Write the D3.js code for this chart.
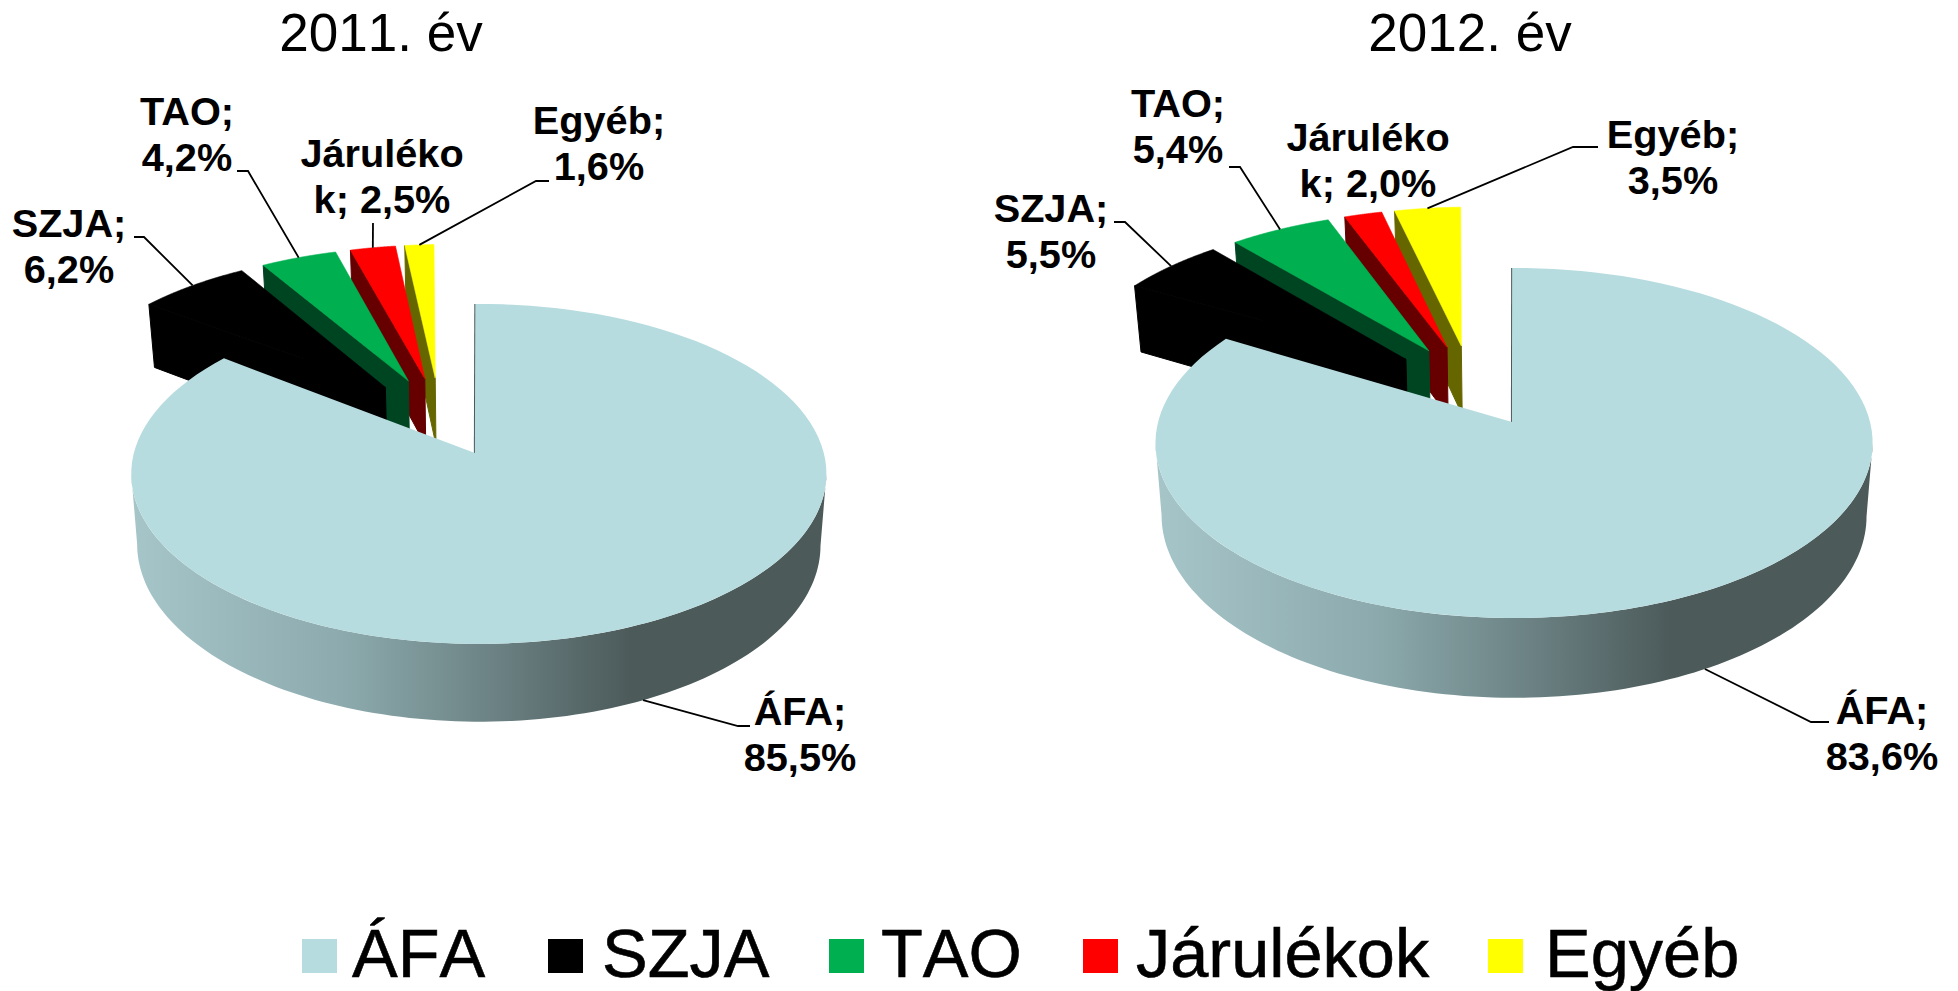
<!DOCTYPE html>
<html>
<head>
<meta charset="utf-8">
<script src="https://cdn.jsdelivr.net/npm/d3@7"></script>
<style>
  html, body { margin: 0; padding: 0; background: #fff; }
  svg { display: block; font-family: "Liberation Sans", Arial, sans-serif; }
</style>
</head>
<body>
<svg width="1958" height="991"></svg>
<script>
const categories = ["ÁFA", "SZJA", "TAO", "Járulékok", "Egyéb"];
const values2011 = [85.5, 6.2, 4.2, 2.5, 1.6];
const values2012 = [83.6, 5.5, 5.4, 2.0, 3.5];
const colors = ["#b7dcdf", "#000000", "#00b050", "#ff0000", "#ffff00"];
const darkColors = ["#4c5a5a", "#000000", "#004522", "#660000", "#666600"];

const labels2011 = [
    { lines: ["ÁFA;", "85,5%"], x: 800, y: 725, elbow: [[738, 726], [750, 726]] },
    { lines: ["SZJA;", "6,2%"], x: 69, y: 237, elbow: [[144, 237], [134, 237]] },
    { lines: ["TAO;", "4,2%"], x: 187, y: 125, elbow: [[248, 171], [237, 171]] },
    { lines: ["Járuléko", "k; 2,5%"], x: 382, y: 167, elbow: [[373, 223]] },
    { lines: ["Egyéb;", "1,6%"], x: 599, y: 134, elbow: [[536, 181], [549, 181]] }
];
const labels2012 = [
    { lines: ["ÁFA;", "83,6%"], x: 1882, y: 724, elbow: [[1811, 722], [1829, 722]] },
    { lines: ["SZJA;", "5,5%"], x: 1051, y: 222, elbow: [[1125, 222], [1114, 222]] },
    { lines: ["TAO;", "5,4%"], x: 1178, y: 117, elbow: [[1240, 167], [1229, 167]] },
    { lines: ["Járuléko", "k; 2,0%"], x: 1368, y: 151, elbow: null },
    { lines: ["Egyéb;", "3,5%"], x: 1673, y: 148, elbow: [[1573, 147], [1598, 147]] }
];

// legend slots: swatch left edge and text left edge
const legendSwatchX = [302, 548, 829, 1083, 1488];
const legendTextX = [352, 602, 881, 1136, 1545];

const svg = d3.select("svg");
const defs = svg.append("defs");

const lineGen = d3.line().x(d => d[0]).y(d => d[1]);

function drawPie(opts) {
    const { values, labels, title, titleX, id } = opts;
    const { ax, ay, R, B, k, m, depth, e, c0 } = opts;
    const g = svg.append("g").attr("class", id);

    // tilted disc with a bit of perspective: y is negative towards the back
    function project(X, Y, z) {
        const w = 1 / (1 - k * Y - m * X);
        return [
            ax + R * X * w * (1 - 0.017 * z),
            ay + B * Y * w + z * depth * Math.pow(w, 0.8)
        ];
    }

    const slices = d3.pie().sort(null)(values);
    slices.forEach((s, i) => {
        s.mid = (s.startAngle + s.endAngle) / 2;
        s.i = i;
        s.cx = c0[0] + e * Math.sin(s.mid);
        s.cy = c0[1] - e * Math.cos(s.mid);
        s.rot = i === 0 ? 0 : 0.02; // the small slices lean a touch to the left
    });

    const rim = (s, a, z) => project(s.cx + Math.sin(a - s.rot), s.cy - Math.cos(a - s.rot), z);
    const arcPts = (s, a0, a1, z) => d3.range(0, 121).map(j => rim(s, a0 + (a1 - a0) * j / 120, z));

    const gradId = `side-${id}`;
    const grad = defs.append("linearGradient")
        .attr("id", gradId)
        .attr("gradientUnits", "userSpaceOnUse")
        .attr("x1", ax - R).attr("x2", ax + R).attr("y1", 0).attr("y2", 0);
    grad.append("stop").attr("offset", 0).attr("stop-color", "#a6c5c8");
    grad.append("stop").attr("offset", 0.3).attr("stop-color", "#8dabae");
    grad.append("stop").attr("offset", 0.5).attr("stop-color", "#6f8688");
    grad.append("stop").attr("offset", 0.72).attr("stop-color", "#4c5a5a");
    grad.append("stop").attr("offset", 1).attr("stop-color", "#4c5a5a");

    // small slices back to front, the big one goes last
    slices.slice(1).reverse().forEach(s => {
        const apexTop = project(s.cx, s.cy, 0);
        const apexBottom = project(s.cx, s.cy, 1);
        const outerTop = rim(s, s.startAngle, 0);
        const outerBottom = rim(s, s.startAngle, 1);
        g.append("path")
            .attr("d", lineGen([apexTop, outerTop, outerBottom, apexBottom]) + "Z")
            .attr("fill", darkColors[s.i])
            .attr("stroke", darkColors[s.i])
            .attr("stroke-width", 1);
        g.append("path")
            .attr("d", lineGen([apexTop].concat(arcPts(s, s.startAngle, s.endAngle, 0))) + "Z")
            .attr("fill", colors[s.i])
            .attr("stroke", colors[s.i])
            .attr("stroke-width", 0.6);
    });

    // side wall of the big slice between the two outer edges of the disc
    const big = slices[0];
    const sideFrom = Math.PI / 2 + Math.asin(k);
    const sideTo = 3 * Math.PI / 2 - Math.asin(k);
    g.append("path")
        .attr("d", lineGen(arcPts(big, sideFrom, sideTo, 0)
            .concat(arcPts(big, sideFrom, sideTo, 1).reverse())) + "Z")
        .attr("fill", `url(#${gradId})`);
    g.append("path")
        .attr("d", lineGen([project(big.cx, big.cy, 0), rim(big, 0, 0)]))
        .attr("stroke", "#4c5a5a")
        .attr("stroke-width", 2)
        .attr("fill", "none");
    g.append("path")
        .attr("d", lineGen([project(big.cx, big.cy, 0)].concat(arcPts(big, big.startAngle, big.endAngle, 0))) + "Z")
        .attr("fill", colors[0]);

    // leader lines run from the rim of each slice to its label
    labels.forEach((l, i) => {
        if (!l.elbow) return;
        const s = slices[i];
        const anchor = rim(s, s.mid, i === 0 ? 1 : 0);
        g.append("path")
            .attr("d", lineGen([anchor].concat(l.elbow)))
            .attr("fill", "none")
            .attr("stroke", "#000")
            .attr("stroke-width", 1.8);
    });

    labels.forEach(l => {
        l.lines.forEach((t, j) => {
            g.append("text")
                .attr("x", l.x)
                .attr("y", l.y + j * 46)
                .attr("text-anchor", "middle")
                .style("font-size", "39.7px")
                .style("font-weight", "bold")
                .text(t);
        });
    });

    g.append("text")
        .attr("x", titleX)
        .attr("y", 51)
        .attr("text-anchor", "middle")
        .style("font-size", "53px")
        .style("font-kerning", "none")
        .text(title);
}

drawPie({
    id: "y2011", title: "2011. év", titleX: 381,
    values: values2011, labels: labels2011,
    ax: 479, ay: 453, R: 345, B: 167.4, k: 0.1236, m: 0.0115, depth: 70,
    e: 0.25, c0: [-0.122, -0.225]
});

drawPie({
    id: "y2012", title: "2012. év", titleX: 1470,
    values: values2012, labels: labels2012,
    ax: 1514, ay: 422, R: 356, B: 172.5, k: 0.12, m: 0.006, depth: 72,
    e: 0.25, c0: [-0.129, -0.2175]
});

// Legend
const legend = svg.append("g").attr("class", "legend");
categories.forEach((c, i) => {
    legend.append("rect")
        .attr("x", legendSwatchX[i])
        .attr("y", 939)
        .attr("width", 35)
        .attr("height", 34)
        .attr("fill", colors[i]);
    legend.append("text")
        .attr("x", legendTextX[i])
        .attr("y", 977)
        .style("font-size", "68.5px")
        .style("font-kerning", "none")
        .attr("stroke", "#000")
        .attr("stroke-width", 0.6)
        .text(c);
});
</script>
</body>
</html>
